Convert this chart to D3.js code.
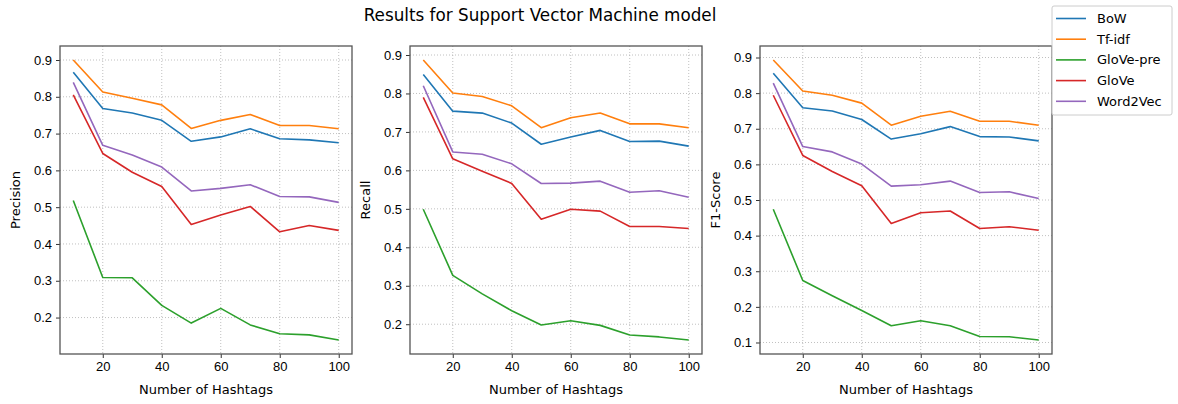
<!DOCTYPE html>
<html>
<head>
<meta charset="utf-8">
<script src="https://cdn.jsdelivr.net/npm/d3@7"></script>
<style>
  body { margin: 0; background: #fff; }
  svg { font-family: "DejaVu Sans", sans-serif; }
  .grid line { stroke: #b0b0b0; stroke-width: 0.8; stroke-dasharray: 1,2; }
  .axis text { font-size: 13px; fill: #000; }
  .axis line { stroke: #333; }
</style>
</head>
<body>
<svg id="chart"></svg>
<script>
// number of hashtags
const hashtags = [10, 20, 30, 40, 50, 60, 70, 80, 90, 100];
const models = ["BoW", "Tf-idf", "GloVe-pre", "GloVe", "Word2Vec"];
const colors = ["#1f77b4", "#ff7f0e", "#2ca02c", "#d62728", "#9467bd"];

// Precision
const precBoW      = [0.867, 0.768, 0.756, 0.736, 0.679, 0.691, 0.713, 0.686, 0.683, 0.675];
const precTfidf    = [0.900, 0.813, 0.796, 0.778, 0.714, 0.736, 0.752, 0.722, 0.722, 0.713];
const precGlovePre = [0.518, 0.309, 0.308, 0.233, 0.185, 0.225, 0.180, 0.156, 0.153, 0.139];
const precGlove    = [0.805, 0.646, 0.595, 0.556, 0.453, 0.479, 0.502, 0.433, 0.450, 0.437];
const precW2V      = [0.839, 0.668, 0.642, 0.609, 0.544, 0.551, 0.561, 0.529, 0.528, 0.513];

// Recall
const recBoW      = [0.849, 0.754, 0.749, 0.723, 0.668, 0.687, 0.704, 0.675, 0.676, 0.663];
const recTfidf    = [0.887, 0.801, 0.792, 0.768, 0.711, 0.737, 0.749, 0.721, 0.721, 0.711];
const recGlovePre = [0.499, 0.327, 0.279, 0.235, 0.198, 0.209, 0.197, 0.172, 0.167, 0.159];
const recGlove    = [0.790, 0.630, 0.598, 0.566, 0.473, 0.499, 0.494, 0.454, 0.454, 0.449];
const recW2V      = [0.820, 0.648, 0.642, 0.617, 0.566, 0.567, 0.572, 0.543, 0.547, 0.530];

// F1-Score
const f1BoW      = [0.856, 0.759, 0.750, 0.726, 0.671, 0.686, 0.706, 0.678, 0.677, 0.666];
const f1Tfidf    = [0.893, 0.806, 0.794, 0.772, 0.710, 0.735, 0.749, 0.721, 0.721, 0.710];
const f1GlovePre = [0.474, 0.274, 0.231, 0.190, 0.147, 0.161, 0.147, 0.117, 0.116, 0.107];
const f1Glove    = [0.794, 0.625, 0.580, 0.540, 0.434, 0.464, 0.469, 0.420, 0.425, 0.415];
const f1W2V      = [0.828, 0.650, 0.635, 0.601, 0.539, 0.543, 0.553, 0.521, 0.523, 0.504];

const xTicks = [20, 40, 60, 80, 100];
const precTicks = [0.2, 0.3, 0.4, 0.5, 0.6, 0.7, 0.8, 0.9];
const recTicks = [0.2, 0.3, 0.4, 0.5, 0.6, 0.7, 0.8, 0.9];
const f1Ticks = [0.1, 0.2, 0.3, 0.4, 0.5, 0.6, 0.7, 0.8, 0.9];

const panels = [
  {label: "Precision", series: [precBoW, precTfidf, precGlovePre, precGlove, precW2V], ticks: precTicks, left: 60},
  {label: "Recall", series: [recBoW, recTfidf, recGlovePre, recGlove, recW2V], ticks: recTicks, left: 410},
  {label: "F1-Score", series: [f1BoW, f1Tfidf, f1GlovePre, f1Glove, f1W2V], ticks: f1Ticks, left: 760}
];

const W = 1178, H = 404;
const plotTop = 46, plotW = 292, plotH = 308;

const svg = d3.select("#chart").attr("width", W).attr("height", H);

svg.append("text")
  .attr("x", 540).attr("y", 21)
  .attr("text-anchor", "middle")
  .style("font-size", "16.8px")
  .text("Results for Support Vector Machine model");

// matplotlib style 5% padding
function padded(ext) {
  const d = (ext[1] - ext[0]) * 0.05;
  return [ext[0] - d, ext[1] + d];
}

panels.forEach(p => {
  const g = svg.append("g").attr("transform", `translate(${p.left},${plotTop})`);

  const x = d3.scaleLinear().domain(padded(d3.extent(hashtags))).range([0, plotW]);
  const allVals = p.series.flat();
  const y = d3.scaleLinear().domain(padded(d3.extent(allVals))).range([plotH, 0]);

  // grid
  const grid = g.append("g").attr("class", "grid");
  grid.selectAll(".gx").data(xTicks).join("line")
    .attr("x1", d => x(d)).attr("x2", d => x(d))
    .attr("y1", 0).attr("y2", plotH);
  grid.selectAll(".gy").data(p.ticks).join("line")
    .attr("class", "gy")
    .attr("x1", 0).attr("x2", plotW)
    .attr("y1", d => y(d)).attr("y2", d => y(d));

  const line = d3.line().x((d, i) => x(hashtags[i])).y(d => y(d));
  p.series.forEach((s, i) => {
    g.append("path")
      .datum(s)
      .attr("fill", "none")
      .attr("stroke", colors[i])
      .attr("stroke-width", 1.6)
      .attr("stroke-linejoin", "round")
      .attr("d", line);
  });

  const xAxis = g.append("g").attr("class", "axis")
    .attr("transform", `translate(0,${plotH})`)
    .call(d3.axisBottom(x).tickValues(xTicks).tickSize(4).tickPadding(4));
  xAxis.select(".domain").remove();

  const yAxis = g.append("g").attr("class", "axis")
    .call(d3.axisLeft(y).tickValues(p.ticks).tickSize(4).tickPadding(4).tickFormat(d3.format(".1f")));
  yAxis.select(".domain").remove();

  // spines
  g.append("rect")
    .attr("width", plotW).attr("height", plotH)
    .attr("fill", "none")
    .attr("stroke", "#555")
    .attr("stroke-width", 1.3);

  g.append("text")
    .attr("x", plotW / 2).attr("y", plotH + 40)
    .attr("text-anchor", "middle")
    .style("font-size", "13px")
    .text("Number of Hashtags");

  g.append("text")
    .attr("transform", `translate(-40,${plotH / 2}) rotate(-90)`)
    .attr("text-anchor", "middle")
    .style("font-size", "13px")
    .text(p.label);
});

// legend
const leg = svg.append("g").attr("transform", "translate(1052,6)");
leg.append("rect")
  .attr("width", 120).attr("height", 109).attr("rx", 2)
  .attr("fill", "#fff").attr("fill-opacity", 0.85)
  .attr("stroke", "#ccc");
models.forEach((m, i) => {
  const yy = 12.5 + i * 20.7;
  leg.append("line")
    .attr("x1", 4).attr("x2", 34)
    .attr("y1", yy).attr("y2", yy)
    .attr("stroke", colors[i]).attr("stroke-width", 1.6);
  leg.append("text")
    .attr("x", 45).attr("y", yy + 4.5)
    .style("font-size", "13px")
    .text(m);
});
</script>
</body>
</html>
